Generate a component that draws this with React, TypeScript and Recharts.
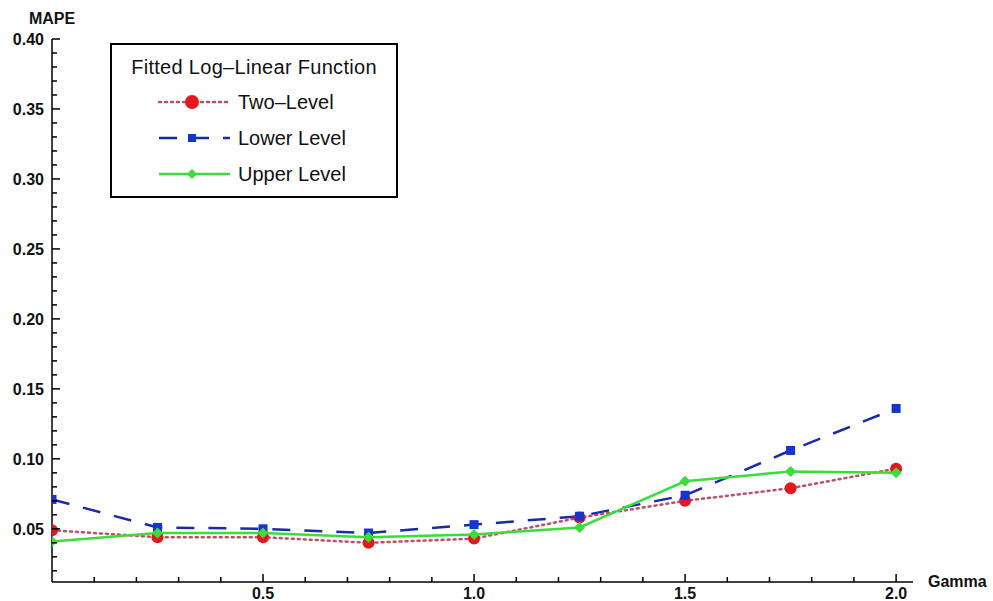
import React from 'react';
import { LineChart, Line, XAxis, YAxis, Legend } from 'recharts';

const gammaValues = [0, 0.25, 0.5, 0.75, 1.0, 1.25, 1.5, 1.75, 2.0];
const twoLevel = [0.049, 0.044, 0.044, 0.040, 0.043, 0.058, 0.070, 0.079, 0.093];
const lowerLevel = [0.071, 0.051, 0.050, 0.047, 0.053, 0.059, 0.074, 0.106, 0.136];
const upperLevel = [0.041, 0.047, 0.047, 0.044, 0.046, 0.051, 0.084, 0.091, 0.090];

const xTicks = [0.1, 0.2, 0.3, 0.4, 0.5, 0.6, 0.7, 0.8, 0.9, 1.0, 1.1, 1.2, 1.3, 1.4, 1.5, 1.6, 1.7, 1.8, 1.9, 2.0];
const xMajor = ['0.5', '1.0', '1.5', '2.0'];
const yTicks = [0.02, 0.03, 0.04, 0.05, 0.06, 0.07, 0.08, 0.09, 0.10, 0.11, 0.12, 0.13, 0.14, 0.15, 0.16, 0.17, 0.18, 0.19, 0.20,
  0.21, 0.22, 0.23, 0.24, 0.25, 0.26, 0.27, 0.28, 0.29, 0.30, 0.31, 0.32, 0.33, 0.34, 0.35, 0.36, 0.37, 0.38, 0.39, 0.40];
const yMajor = ['0.05', '0.10', '0.15', '0.20', '0.25', '0.30', '0.35', '0.40'];

const data = gammaValues.map((g, i) => ({
  gamma: g,
  two: twoLevel[i],
  lower: lowerLevel[i],
  upper: upperLevel[i],
}));

const FONT = '"Liberation Sans", Arial, sans-serif';

const RED = '#e8161e';
const RED_LINE = '#c0506a';
const BLUE = '#1535d0';
const BLUE_LINE = '#1a2aa8';
const GREEN = '#3ade3a';

const XTick = ({ x, y, payload }: any) => {
  const label = payload.value.toFixed(1);
  const major = xMajor.includes(label);
  return (
    <g>
      <line x1={x} x2={x} y1={y} y2={y - (major ? 8 : 5)} stroke="#000" strokeWidth={1.5} />
      {major && (
        <text x={x} y={y + 17} textAnchor="middle" fontFamily={FONT} fontSize={16} fontWeight="bold" fill="#111">
          {label}
        </text>
      )}
    </g>
  );
};

const YTick = ({ x, y, payload }: any) => {
  const label = payload.value.toFixed(2);
  const major = yMajor.includes(label);
  return (
    <g>
      <line x1={x} x2={x + (major ? 8 : 5)} y1={y} y2={y} stroke="#000" strokeWidth={1.5} />
      {major && (
        <text x={x - 8} y={y + 6} textAnchor="end" fontFamily={FONT} fontSize={16} fontWeight="bold" fill="#111">
          {label}
        </text>
      )}
    </g>
  );
};

const CircleDot = ({ cx, cy }: any) => <circle cx={cx} cy={cy} r={6} fill={RED} />;
const SquareDot = ({ cx, cy }: any) => <rect x={cx - 4.5} y={cy - 4.5} width={9} height={9} fill={BLUE} />;
const DiamondDot = ({ cx, cy }: any) => (
  <polygon points={`${cx},${cy - 5.5} ${cx + 5.5},${cy} ${cx},${cy + 5.5} ${cx - 5.5},${cy}`} fill={GREEN} />
);

const legendRows = [
  { name: 'Two‒Level', stroke: RED_LINE, dash: '2 4', marker: 'circle' },
  { name: 'Lower Level', stroke: BLUE_LINE, dash: '18 14', marker: 'square' },
  { name: 'Upper Level', stroke: GREEN, dash: undefined, marker: 'diamond' },
];

const LegendBox = () => (
  <div
    style={{
      width: 284,
      height: 151,
      border: '2px solid #000',
      background: '#fff',
      fontFamily: FONT,
      fontSize: 20,
      color: '#111',
      boxSizing: 'content-box',
    }}
  >
    <div style={{ textAlign: 'center', marginTop: 11, height: 28, letterSpacing: 0.3 }}>Fitted Log‒Linear Function</div>
    {legendRows.map((r) => (
      <div key={r.name} style={{ display: 'flex', alignItems: 'center', height: 36 }}>
        <svg width={126} height={20}>
          <line
            x1={47}
            x2={118}
            y1={10}
            y2={10}
            stroke={r.stroke}
            strokeWidth={2.5}
            strokeDasharray={r.dash}
            strokeLinecap={r.marker === 'circle' ? 'round' : 'butt'}
          />
          {r.marker === 'circle' && <circle cx={80} cy={10} r={7} fill={RED} />}
          {r.marker === 'square' && <rect x={76} y={6} width={8} height={8} fill={BLUE} />}
          {r.marker === 'diamond' && <polygon points="80,5 85,10 80,15 75,10" fill={GREEN} />}
        </svg>
        <span>{r.name}</span>
      </div>
    ))}
  </div>
);

export default function App() {
  return (
    <div style={{ position: 'absolute', left: 0, top: 0, width: 993, height: 601, background: '#fff' }}>
      <LineChart width={993} height={601} data={data} margin={{ top: 39, right: 80, bottom: 0, left: 0 }}>
        <XAxis
          dataKey="gamma"
          type="number"
          domain={[0, 2.04]}
          ticks={xTicks}
          interval={0}
          height={19}
          tickSize={0}
          tickMargin={0}
          tickLine={false}
          tick={<XTick />}
          axisLine={{ stroke: '#000', strokeWidth: 1.5 }}
          allowDataOverflow
          label={{
            content: ({ viewBox }: any) => (
              <text x={viewBox.x + viewBox.width + 15} y={viewBox.y + 5} fontFamily={FONT} fontSize={16} fontWeight="bold" fill="#111">
                Gamma
              </text>
            ),
          }}
        />
        <YAxis
          type="number"
          domain={[0.012, 0.4]}
          ticks={yTicks}
          interval={0}
          width={52}
          tickSize={0}
          tickMargin={0}
          tickLine={false}
          tick={<YTick />}
          axisLine={{ stroke: '#000', strokeWidth: 1.5 }}
          allowDataOverflow
          label={{
            content: ({ viewBox }: any) => (
              <text x={viewBox.x + viewBox.width} y={viewBox.y - 15} textAnchor="middle" fontFamily={FONT} fontSize={16} fontWeight="bold" fill="#111">
                MAPE
              </text>
            ),
          }}
        />
        <Legend
          layout="horizontal"
          verticalAlign="middle"
          align="center"
          wrapperStyle={{ left: 110, top: 43, width: 288 }}
          content={<LegendBox />}
        />
        <Line
          dataKey="two"
          name="Two-Level"
          stroke={RED_LINE}
          strokeWidth={2.5}
          strokeDasharray="2 4"
          strokeLinecap="round"
          dot={<CircleDot />}
          activeDot={false}
          isAnimationActive={false}
          type="linear"
        />
        <Line
          dataKey="lower"
          name="Lower Level"
          stroke={BLUE_LINE}
          strokeWidth={2.5}
          strokeDasharray="18 14"
          dot={<SquareDot />}
          activeDot={false}
          isAnimationActive={false}
          type="linear"
        />
        <Line
          dataKey="upper"
          name="Upper Level"
          stroke={GREEN}
          strokeWidth={2.5}
          dot={<DiamondDot />}
          activeDot={false}
          isAnimationActive={false}
          type="linear"
        />
      </LineChart>
    </div>
  );
}
